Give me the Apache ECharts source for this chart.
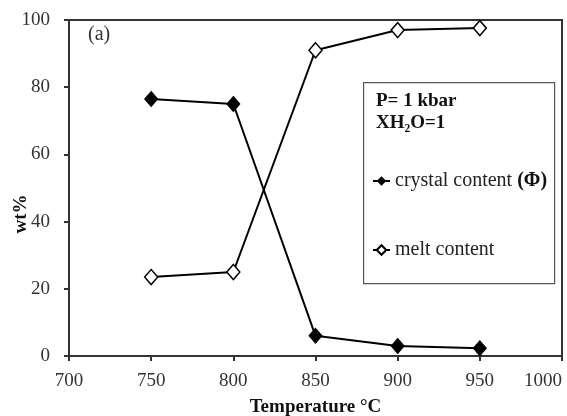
<!DOCTYPE html>
<html><head><meta charset="utf-8">
<script src="https://cdn.jsdelivr.net/npm/echarts@6/dist/echarts.min.js"></script>
<style>html,body{margin:0;padding:0;background:#fff}#c{width:567px;height:416px}</style>
</head><body><div id="c"></div>
<script>
var temperatures = [750, 800, 850, 900, 950];
var crystalContent = [76.5, 75, 6, 3, 2.3];
var meltContent = [23.5, 25, 91, 97, 97.6];
var xTicks = [700, 750, 800, 850, 900, 950, 1000];
var yTicks = [0, 20, 40, 60, 80, 100];

var FONT = '"Liberation Serif", "DejaVu Serif", serif';
var chart = echarts.init(document.getElementById('c'));
function pairs(xs, ys){ return xs.map(function(x,i){return [x, ys[i]];}); }
chart.setOption({
  animation: false,
  backgroundColor: '#fff',
  grid: {left: 69, top: 20, right: 5, bottom: 60, containLabel: false, outerBoundsMode: 'none',
         show: true, borderColor: '#333', borderWidth: 2},
  xAxis: {
    type: 'value', min: xTicks[0], max: xTicks[xTicks.length-1], interval: 50,
    name: 'Temperature °C', nameLocation: 'middle', nameGap: 42,
    nameTextStyle: {fontFamily: FONT, fontSize: 19, fontWeight: 'bold', color: '#111'},
    axisLine: {lineStyle: {color: '#333', width: 2}},
    axisTick: {show: true, length: 5, lineStyle: {color: '#333', width: 2}},
    axisLabel: {fontFamily: FONT, fontSize: 19, color: '#333', margin: 16, alignMaxLabel: 'right',
      formatter: function(v){ return String(v); }},
    splitLine: {show: false}
  },
  yAxis: {
    type: 'value', min: yTicks[0], max: yTicks[yTicks.length-1], interval: 20,
    axisLine: {show: true, lineStyle: {color: '#333', width: 2}},
    axisTick: {show: true, length: 5, lineStyle: {color: '#333', width: 2}},
    axisLabel: {fontFamily: FONT, fontSize: 19, color: '#333', margin: 19},
    splitLine: {show: false}
  },
  legend: {
    orient: 'vertical', left: 367, top: 166, itemGap: 49,
    itemWidth: 17, itemHeight: 12,
    data: ['crystal content (Φ)', 'melt content'],
    textStyle: {fontFamily: FONT, fontSize: 20, color: '#222',
      rich: {a: {fontFamily: FONT, fontSize: 20, color: '#222'}, b: {fontFamily: FONT, fontSize: 20, fontWeight: 'bold', color: '#111'}}},
    formatter: function(n){
      if (n.indexOf('(Φ)') >= 0) return '{a|crystal content }{b|(Φ)}';
      return '{a|' + n + '}';
    }
  },
  graphic: [
    {type: 'rect', left: 363, top: 82, shape: {width: 191, height: 201}, style: {fill: '#fff', stroke: '#555', lineWidth: 1.2}, z: 0},
    {type: 'text', left: 376, top: 92, style: {text: 'P= 1 kbar', fontFamily: FONT, fontSize: 19, fontWeight: 'bold', fill: '#111'}, z: 10},
    {type: 'text', left: 376, top: 114, style: {text: 'XH\u2082O=1', fontFamily: FONT, fontSize: 19, fontWeight: 'bold', fill: '#111'}, z: 10},
    {type: 'text', left: 88, top: 25, style: {text: '(a)', fontFamily: FONT, fontSize: 20, fill: '#333'}, z: 10},
    {type: 'text', x: 21, y: 214, rotation: Math.PI / 2,
     style: {text: 'wt%', fontFamily: FONT, fontSize: 19, fontWeight: 'bold', fill: '#111', align: 'center', verticalAlign: 'middle'}, z: 10}
  ],
  series: [
    {name: 'crystal content (Φ)', type: 'line', data: pairs(temperatures, crystalContent),
     symbol: 'diamond', symbolSize: [13, 15], z: 5,
     lineStyle: {color: '#000', width: 2}, itemStyle: {color: '#000', borderColor: '#000'}},
    {name: 'melt content', type: 'line', data: pairs(temperatures, meltContent),
     symbol: 'diamond', symbolSize: [13, 15], z: 5,
     lineStyle: {color: '#000', width: 2}, itemStyle: {color: '#fff', borderColor: '#000', borderWidth: 1.5}}
  ]
});
</script></body></html>
